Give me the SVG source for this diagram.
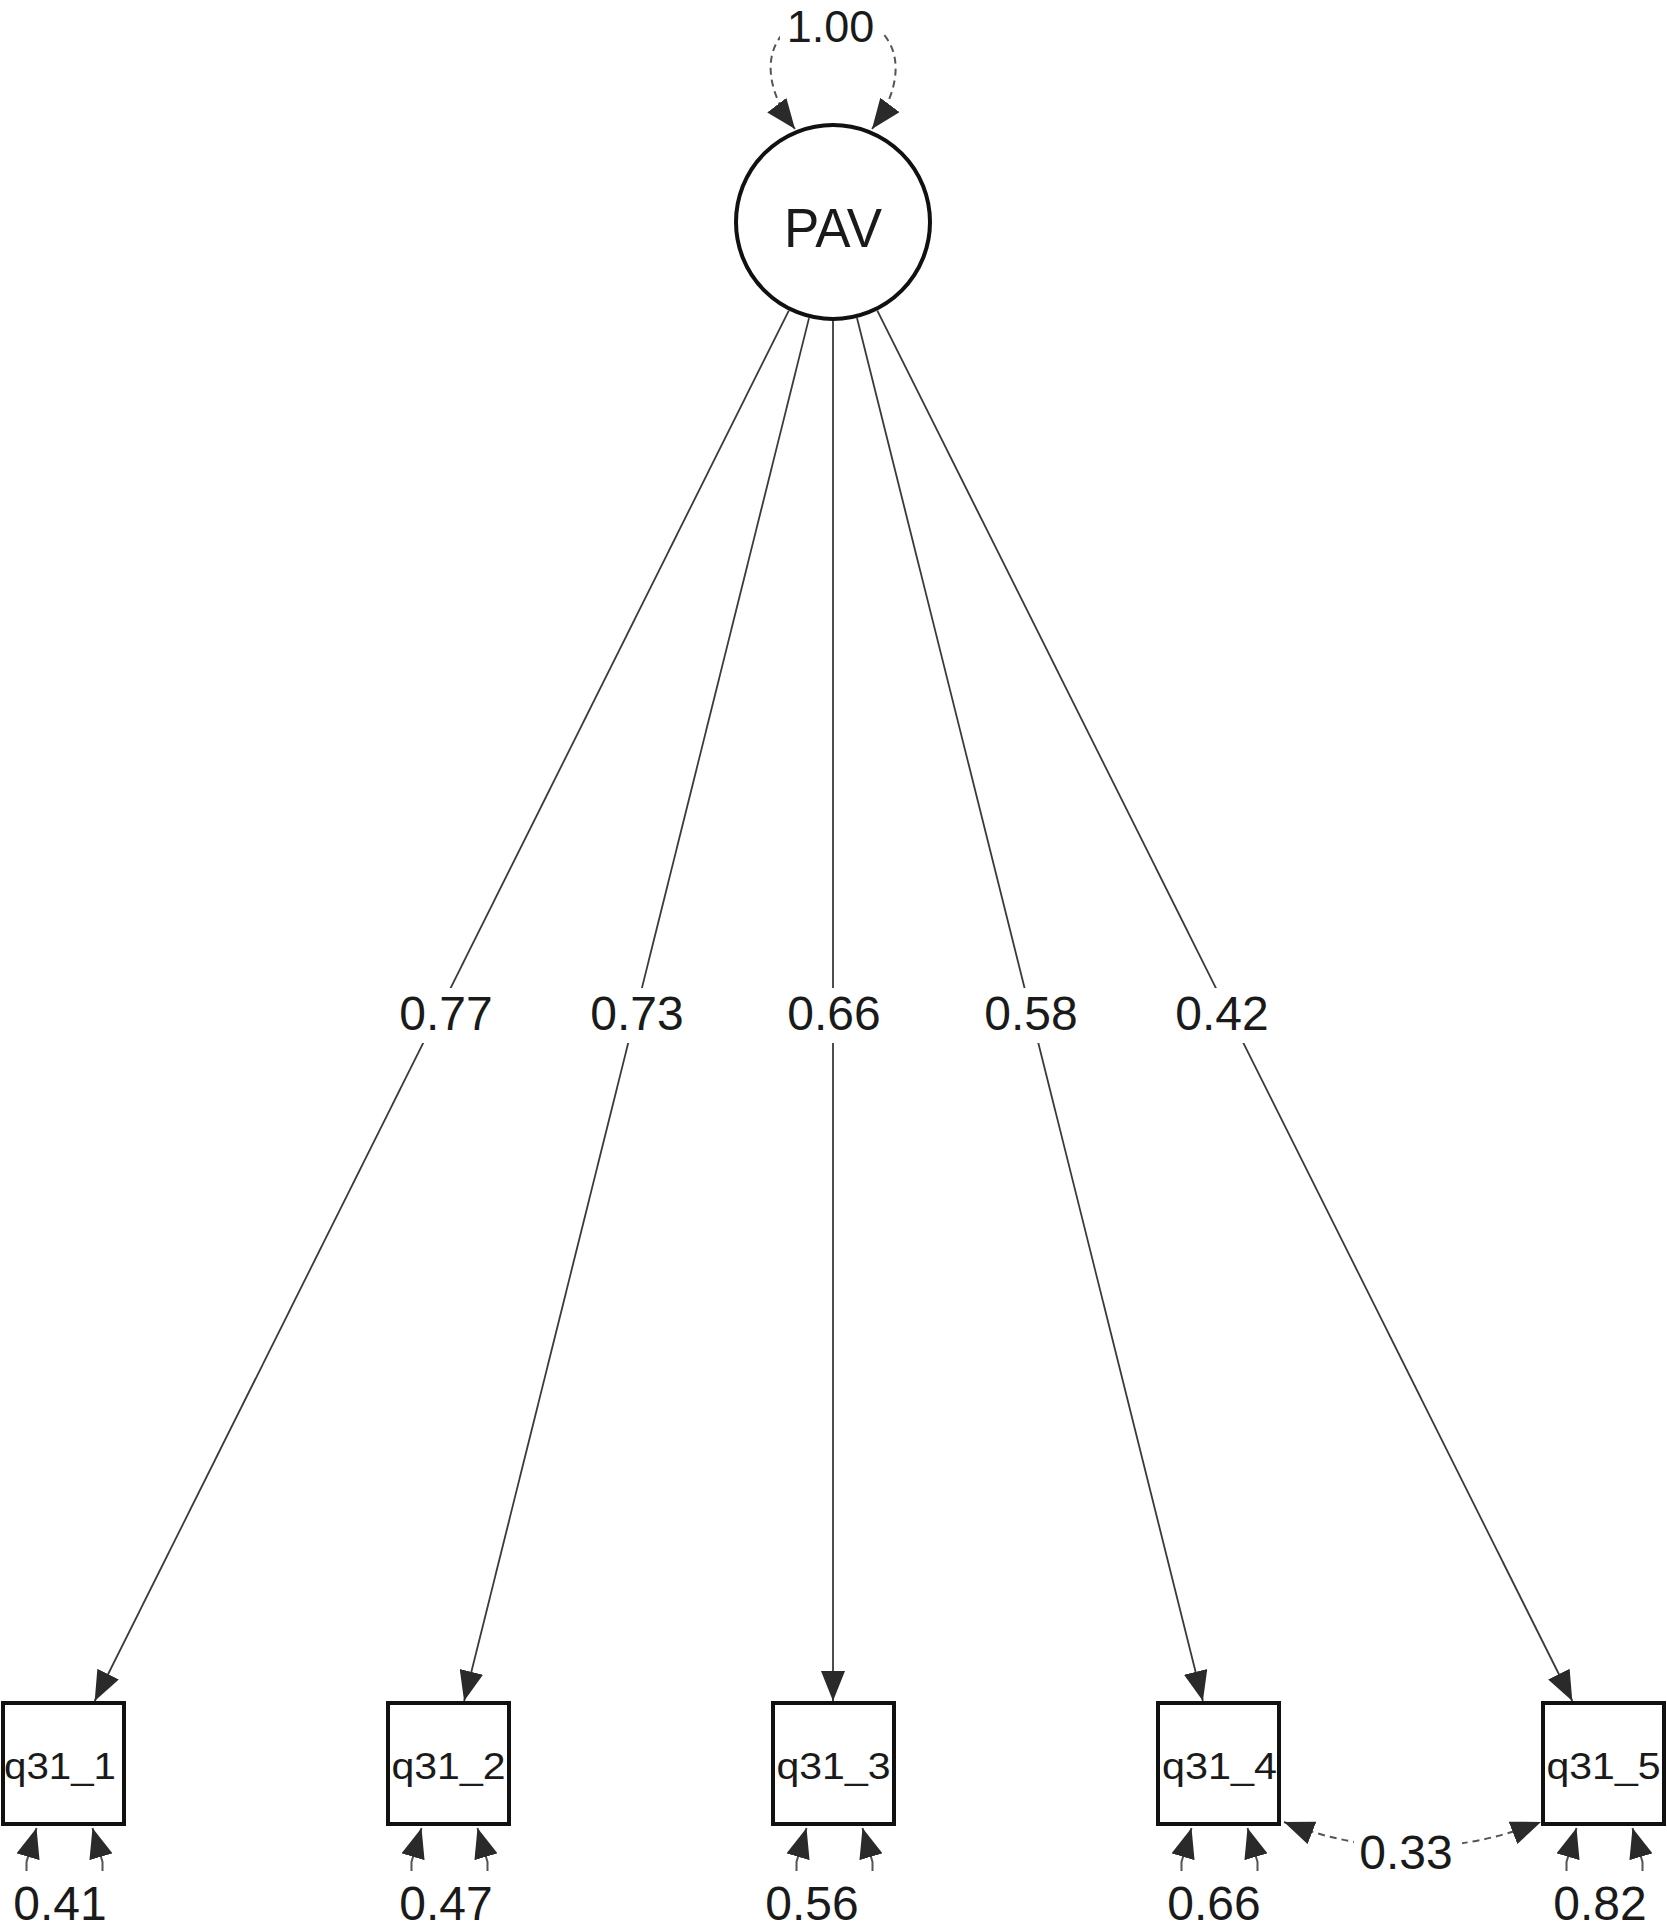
<svg xmlns="http://www.w3.org/2000/svg" width="1667" height="1930" viewBox="0 0 1667 1930">
<style>
  .bg { fill: #ffffff; }
  .node { fill: #ffffff; stroke: #111111; stroke-width: 4; }
  .lab { font-family: "Liberation Sans", Arial, sans-serif; fill: #1a1a1a; text-anchor: middle; }
  .num { font-size: 48px; }
  .box-lab { font-size: 37px; }
  .edge { fill: none; stroke: #3a3a3a; stroke-width: 1.8; }
  .dash { fill: none; stroke: #555555; stroke-width: 2; stroke-dasharray: 7 5; }
  .res { fill: none; stroke: #555555; stroke-width: 2; }
  .lbg { fill: #ffffff; }
</style>
<defs>
  <marker id="ah" viewBox="0 0 30 24" refX="30" refY="12" markerWidth="30" markerHeight="24" markerUnits="userSpaceOnUse" orient="auto">
    <path d="M0,0 L30,12 L0,24 z" fill="#2a2a2a"/>
  </marker>
  <marker id="ahs" viewBox="0 0 30 24" refX="30" refY="12" markerWidth="30" markerHeight="24" markerUnits="userSpaceOnUse" orient="auto-start-reverse">
    <path d="M0,0 L30,12 L0,24 z" fill="#2a2a2a"/>
  </marker>
</defs>
<rect class="bg" x="0" y="0" width="1667" height="1930"/>

<g id="connectors">
  <!-- variance self-loop on PAV -->
  <path class="dash" d="M795,129 C750,70 770,15 833,15 C896,15 916,70 872,129" marker-start="url(#ahs)" marker-end="url(#ah)"/>
  <!-- loadings -->
  <line class="edge" x1="788.8" y1="310.6" x2="94.7" y2="1701" marker-end="url(#ah)"/>
  <line class="edge" x1="809" y1="318.1" x2="464.1" y2="1701" marker-end="url(#ah)"/>
  <line class="edge" x1="833" y1="321" x2="833" y2="1701" marker-end="url(#ah)"/>
  <line class="edge" x1="857" y1="318" x2="1202.9" y2="1701" marker-end="url(#ah)"/>
  <line class="edge" x1="877.3" y1="310.6" x2="1572.3" y2="1701" marker-end="url(#ah)"/>
  <!-- residual variances -->
  <path class="res" d="M26.5,1871 L26.5,1862 L36.5,1828" marker-end="url(#ah)"/>
  <path class="res" d="M102.5,1871 L102.5,1862 L92.5,1828" marker-end="url(#ah)"/>
  <path class="res" d="M411.5,1871 L411.5,1862 L421.5,1828" marker-end="url(#ah)"/>
  <path class="res" d="M487.5,1871 L487.5,1862 L477.5,1828" marker-end="url(#ah)"/>
  <path class="res" d="M796.5,1871 L796.5,1862 L806.5,1828" marker-end="url(#ah)"/>
  <path class="res" d="M872.5,1871 L872.5,1862 L862.5,1828" marker-end="url(#ah)"/>
  <path class="res" d="M1181.5,1871 L1181.5,1862 L1191.5,1828" marker-end="url(#ah)"/>
  <path class="res" d="M1257.5,1871 L1257.5,1862 L1247.5,1828" marker-end="url(#ah)"/>
  <path class="res" d="M1566.5,1871 L1566.5,1862 L1576.5,1828" marker-end="url(#ah)"/>
  <path class="res" d="M1642.5,1871 L1642.5,1862 L1632.5,1828" marker-end="url(#ah)"/>
  <!-- covariance q31_4 <-> q31_5 -->
  <path class="dash" d="M1284,1822 Q1412,1872 1541,1822" marker-start="url(#ahs)" marker-end="url(#ah)"/>

  <!-- edge labels -->
  <rect class="lbg" x="780" y="4" width="102" height="44"/>
  <text class="lab" x="830.5" y="42" font-size="45">1.00</text>
  <rect class="lbg" x="396" y="988" width="100" height="55"/>
  <text class="lab num" x="446" y="1030">0.77</text>
  <rect class="lbg" x="587" y="988" width="100" height="55"/>
  <text class="lab num" x="637" y="1030">0.73</text>
  <rect class="lbg" x="784" y="988" width="100" height="55"/>
  <text class="lab num" x="834" y="1030">0.66</text>
  <rect class="lbg" x="981" y="988" width="100" height="55"/>
  <text class="lab num" x="1031" y="1030">0.58</text>
  <rect class="lbg" x="1172" y="988" width="100" height="55"/>
  <text class="lab num" x="1222" y="1030">0.42</text>
  <rect class="lbg" x="1354" y="1830" width="108" height="48"/>
  <text class="lab num" x="1406" y="1869">0.33</text>
  <text class="lab num" x="60" y="1920">0.41</text>
  <text class="lab num" x="446" y="1920">0.47</text>
  <text class="lab num" x="812" y="1920">0.56</text>
  <text class="lab num" x="1214" y="1920">0.66</text>
  <text class="lab num" x="1600" y="1920">0.82</text>
</g>

<g id="PAV">
  <circle class="node" cx="833" cy="222" r="97"/>
  <text class="lab" x="833" y="247" font-size="56" textLength="98" lengthAdjust="spacingAndGlyphs">PAV</text>
</g>
<g id="q31_1">
  <rect class="node" x="3" y="1703" width="121" height="121"/>
  <text class="lab box-lab" x="60" y="1779" textLength="112" lengthAdjust="spacingAndGlyphs">q31_1</text>
</g>
<g id="q31_2">
  <rect class="node" x="388" y="1703" width="121" height="121"/>
  <text class="lab box-lab" x="448.5" y="1779" textLength="114" lengthAdjust="spacingAndGlyphs">q31_2</text>
</g>
<g id="q31_3">
  <rect class="node" x="773" y="1703" width="121" height="121"/>
  <text class="lab box-lab" x="833.5" y="1779" textLength="114" lengthAdjust="spacingAndGlyphs">q31_3</text>
</g>
<g id="q31_4">
  <rect class="node" x="1158" y="1703" width="121" height="121"/>
  <text class="lab box-lab" x="1219.5" y="1779" textLength="115" lengthAdjust="spacingAndGlyphs">q31_4</text>
</g>
<g id="q31_5">
  <rect class="node" x="1543" y="1703" width="121" height="121"/>
  <text class="lab box-lab" x="1603.5" y="1779" textLength="114" lengthAdjust="spacingAndGlyphs">q31_5</text>
</g>
</svg>
